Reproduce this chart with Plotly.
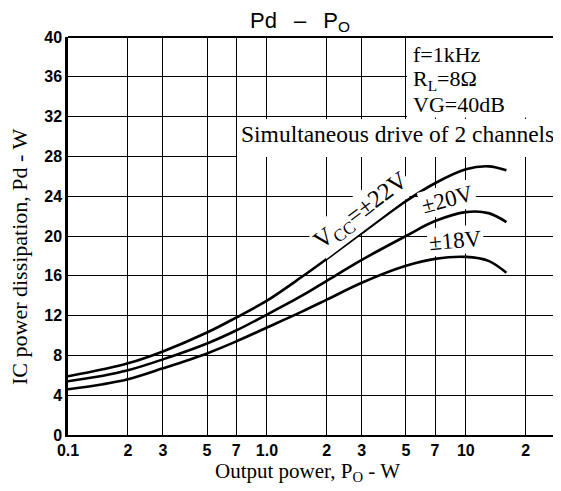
import plotly.graph_objects as go

# Output power (W)
po = [0.1, 0.15, 0.2, 0.3, 0.5, 0.7, 1.0, 1.5, 2, 3, 5, 7, 10, 13, 16]
# IC power dissipation (W)
pd_22v = [5.9, 6.6, 7.2, 8.4, 10.3, 11.8, 13.5, 15.9, 17.7, 20.3, 23.5, 25.3, 26.7, 27.0, 26.6]
pd_20v = [5.4, 5.95, 6.5, 7.6, 9.2, 10.5, 12.1, 14.0, 15.5, 17.6, 20.0, 21.5, 22.4, 22.3, 21.4]
pd_18v = [4.6, 5.1, 5.6, 6.7, 8.2, 9.4, 10.8, 12.4, 13.6, 15.3, 17.0, 17.7, 17.9, 17.5, 16.3]

x_tickvals = [0.1, 0.2, 0.3, 0.5, 0.7, 1, 2, 3, 5, 7, 10, 20, 30]
x_ticktext = ["0.1", "2", "3", "5", "7", "1.0", "2", "3", "5", "7", "10", "2", "3"]
y_tickvals = [0, 4, 8, 12, 16, 20, 24, 28, 32, 36, 40]

serif = "Liberation Serif, Times New Roman, serif"
tickfont = dict(family="Liberation Sans Narrow, Arial Narrow, Liberation Sans, Arial", size=16,
                color="black", weight="bold")

fig = go.Figure()
for ys in (pd_22v, pd_20v, pd_18v):
    fig.add_trace(go.Scatter(x=po, y=ys, mode="lines",
                             line=dict(color="black", width=2.6, shape="spline", smoothing=1.0),
                             showlegend=False, hoverinfo="skip"))

# page is offset by the default 8px body margin
OFF = 8
PAGE_W, PAGE_H = 561, 491
W, H = PAGE_W - OFF, PAGE_H - OFF
# plot area in page pixels
PX0, PX1, PY0, PY1 = 68, 561, 37, 435
L, R, T, B = PX0 - OFF, PAGE_W - PX1, PY0 - OFF, PAGE_H - PY1

def px(xp):
    return (xp - PX0) / (PX1 - PX0)

def py(yp):
    return (PY1 - yp) / (PY1 - PY0)

fig.update_layout(
    width=W, height=H,
    margin=dict(l=L, r=R, t=T, b=B, autoexpand=False),
    paper_bgcolor="white", plot_bgcolor="white",
    title=dict(text="Pd \u2002\u2013\u2002 P<sub>O</sub>", x=(300 - OFF) / W, xanchor="center",
               y=1 - (20 - OFF) / H, yanchor="middle",
               font=dict(family="Liberation Sans, Arial", size=22, color="black")),
    xaxis=dict(type="log", range=[-1, 1.4785], tickvals=x_tickvals, ticktext=x_ticktext,
               showgrid=True, gridcolor="black", gridwidth=1, automargin=False,
               showline=True, linecolor="black", linewidth=2, mirror=False,
               ticks="", tickfont=tickfont, zeroline=False, ticklabeloverflow="allow"),
    yaxis=dict(range=[0, 40], tickvals=y_tickvals, automargin=False,
               showgrid=True, gridcolor="black", gridwidth=1,
               showline=True, linecolor="black", linewidth=2.5,
               ticks="", tickfont=tickfont, zeroline=False),
)

# axis titles
fig.add_annotation(text="Output power, P<sub>O</sub> - W", xref="paper", yref="paper",
                   x=px(307), y=py(472), showarrow=False, xanchor="center", yanchor="middle",
                   font=dict(family=serif, size=21, color="black"))
fig.add_annotation(text="IC power dissipation, Pd - W", xref="paper", yref="paper",
                   x=px(20), y=py(257), showarrow=False, xanchor="center", yanchor="middle",
                   textangle=-90, font=dict(family=serif, size=22, color="black"))

# top border line
fig.add_shape(type="line", xref="paper", yref="paper", x0=0, x1=1, y0=1, y1=1,
              line=dict(color="black", width=2))

# conditions box (white, covering grid)
fig.add_shape(type="rect", xref="paper", yref="paper", x0=px(407), x1=1.0, y0=py(117.5), y1=1.0,
              fillcolor="white", line=dict(width=0), layer="above")
fig.add_shape(type="line", xref="paper", yref="paper", x0=px(406), x1=1.0, y0=1, y1=1,
              line=dict(color="black", width=2), layer="above")

# white band for the "Simultaneous drive" note
fig.add_shape(type="rect", xref="paper", yref="paper", x0=px(237), x1=1.0, y0=py(157), y1=py(119),
              fillcolor="white", line=dict(width=0), layer="above")

cond_font = dict(family=serif, size=22, color="black")
for text, yy in [("f=1kHz", 55), ("R<sub>L</sub>=8\u03a9", 80), ("VG=40dB", 105)]:
    fig.add_annotation(text=text, xref="paper", yref="paper", x=px(411), y=py(yy),
                       xanchor="left", yanchor="middle", showarrow=False, font=cond_font)

fig.add_annotation(text="Simultaneous drive of 2 channels", xref="paper", yref="paper",
                   x=px(239), y=py(134), xanchor="left", yanchor="middle", showarrow=False,
                   font=dict(family=serif, size=23.5, color="black"))

curve_font = dict(family=serif, size=23, color="black")
fig.add_annotation(text="V<sub>CC</sub>=\u00b122V", xref="paper", yref="paper",
                   x=px(361), y=py(211), showarrow=False, textangle=-37,
                   font=dict(family=serif, size=24.5, color="black"),
                   xanchor="center", yanchor="middle", bgcolor="white")
fig.add_annotation(text="\u00b120V", xref="paper", yref="paper",
                   x=px(447), y=py(199), showarrow=False, textangle=-15, font=curve_font,
                   xanchor="center", yanchor="middle", bgcolor="white")
fig.add_annotation(text="\u00b118V", xref="paper", yref="paper",
                   x=px(455), y=py(240), showarrow=False, textangle=-5, font=curve_font,
                   xanchor="center", yanchor="middle", bgcolor="white")

fig.write_html("out.html")
